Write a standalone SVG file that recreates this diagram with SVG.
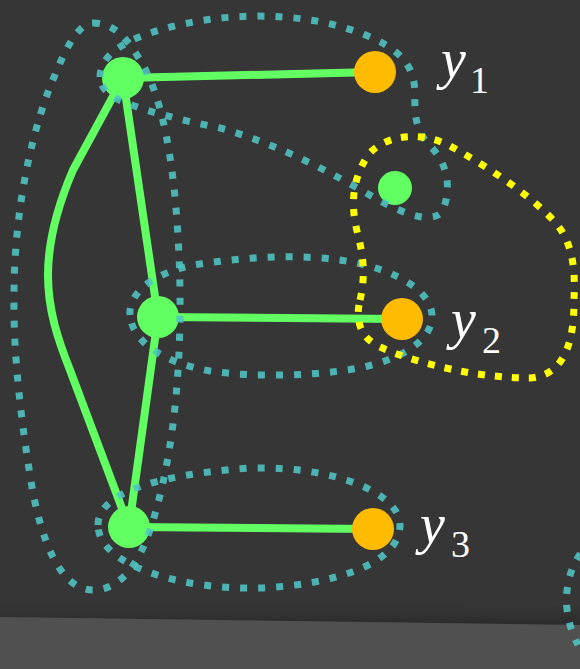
<svg xmlns="http://www.w3.org/2000/svg" width="580" height="669" viewBox="0 0 580 669">
<defs>
<style>
.edge{fill:none;stroke:#62ff62;stroke-width:8;stroke-linecap:round}
.g{fill:#62ff62}
.o{fill:#ffbb00}
.hull{fill:none;stroke:#50c4c4;stroke-opacity:0.88;stroke-width:7;stroke-dasharray:7 11}
.yhull{fill:none;stroke:#ffff00;stroke-width:7;stroke-dasharray:7 10}
.v{font-family:"Liberation Serif",serif;font-style:italic;font-size:56px;fill:#ffffff}
.s{font-family:"Liberation Serif",serif;font-size:38px;fill:#ffffff}
</style>
<linearGradient id="sh" x1="0" y1="0" x2="0" y2="1">
<stop offset="0" stop-color="#363636" stop-opacity="0"/>
<stop offset="1" stop-color="#2a2a2a" stop-opacity="1"/>
</linearGradient>
</defs>
<rect width="580" height="669" fill="#363636"/>
<polygon points="0,597 580,605 580,625 0,617" fill="url(#sh)"/>
<polygon points="0,617 580,625 580,669 0,669" fill="#505050"/>
<g id="connectors">
<path class="edge" d="M123,78 L375,72"/>
<path class="edge" d="M123,78 L158,317"/>
<path class="edge" d="M158,317 L129,527"/>
<path class="edge" d="M123,78 L73,170 C58,205 48,240 48,275 C48,310 58,340 70,370 L129,527"/>
<path class="edge" d="M158,317 L402,319"/>
<path class="edge" d="M129,527 L373,529"/>
</g>
<g id="nodeA"><circle class="g" cx="123" cy="78" r="21"/></g>
<g id="nodeB"><circle class="g" cx="158" cy="317" r="21"/></g>
<g id="nodeC"><circle class="g" cx="129" cy="527" r="21"/></g>
<g id="nodeD"><circle class="g" cx="395" cy="188" r="17"/></g>
<g id="y1"><circle class="o" cx="375" cy="72" r="21"/>
<text class="v" x="441" y="78">y</text><text class="s" x="470" y="93">1</text></g>
<g id="y2"><circle class="o" cx="402" cy="319" r="21"/>
<text class="v" x="451" y="338">y</text><text class="s" x="482" y="353">2</text></g>
<g id="y3"><circle class="o" cx="373" cy="529" r="21"/>
<text class="v" x="420" y="543">y</text><text class="s" x="451" y="557">3</text></g>
<g id="hulls">
<path class="hull" d="M93,23 C115,23 128,40 140,60 C165,100 178,180 180,290 C181,390 170,470 150,530 C138,565 120,590 93,590 C60,590 40,540 30,475 C18,400 13,340 14,290 C15,200 35,120 55,75 C65,50 78,23 93,23 Z"/>
<path class="hull" d="M100,77 C100,55 125,40 160,30 C220,12 300,10 360,33 C400,48 415,65 415,95 C414,120 418,135 432,148 C448,165 452,190 442,212 C430,225 400,212 375,198 C330,172 280,145 220,128 C180,120 140,110 115,98 C105,92 100,85 100,77 Z"/>
<path class="hull" d="M130,315 C128,290 160,270 200,264 C240,258 280,255 320,258 C380,262 430,285 432,315 C433,345 390,365 340,371 C300,376 250,377 210,371 C160,362 132,340 130,315 Z"/>
<path class="hull" d="M98,525 C98,495 150,475 250,468 C340,466 400,495 400,525 C400,565 330,585 260,588 C180,590 98,565 98,525 Z"/>
<path class="hull" d="M592,540 C570,560 555,600 578,645"/>
<path class="yhull" d="M360,300 C366,275 363,255 358,235 C350,205 352,180 368,155 C385,135 420,130 450,146 C490,168 530,195 555,222 C575,245 575,275 574,300 C574,330 570,375 530,378 C480,378 420,365 380,347 C360,338 355,320 360,300 Z"/>
</g>
</svg>
